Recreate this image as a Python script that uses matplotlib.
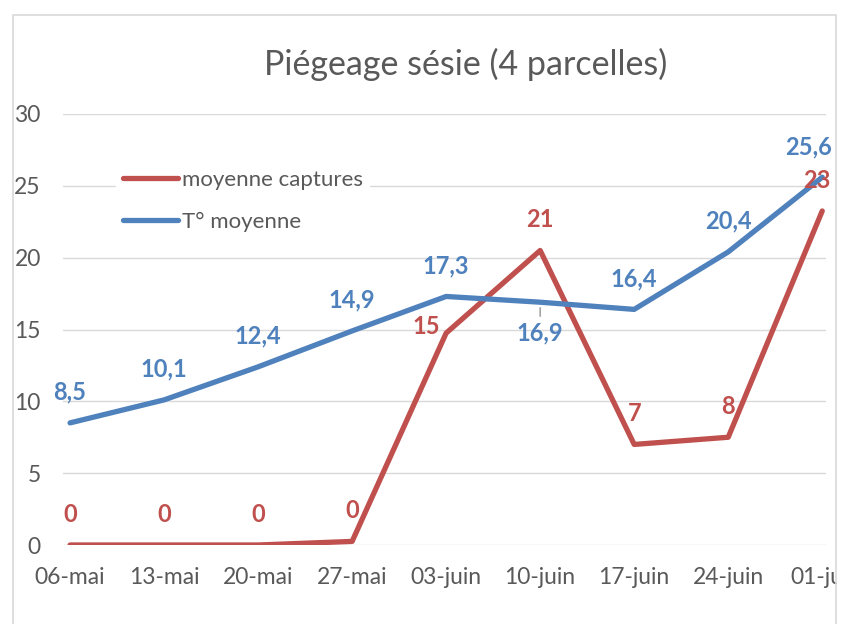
import matplotlib
matplotlib.use("Agg")
import matplotlib.pyplot as plt
from matplotlib.patches import Rectangle

plt.rcParams['font.family'] = ['Lato', 'DejaVu Sans']

# données
dates = ['06-mai', '13-mai', '20-mai', '27-mai', '03-juin', '10-juin', '17-juin', '24-juin', '01-juil']
captures = [0, 0, 0, 0.25, 14.75, 20.5, 7, 7.5, 23.25]
temp = [8.5, 10.1, 12.4, 14.9, 17.3, 16.9, 16.4, 20.4, 25.6]
captures_lbl = ['0', '0', '0', '0', '15', '21', '7', '8', '23']
temp_lbl = ['8,5', '10,1', '12,4', '14,9', '17,3', '16,9', '16,4', '20,4', '25,6']

RED = '#C0504D'
BLUE = '#4F81BD'
GREY = '#595959'

fig = plt.figure(figsize=(8.51, 6.24), dpi=100)
ax = fig.add_axes([63/851, 1-545/624, (826-63)/851, (545-114)/624])

x = list(range(len(dates)))
l1, = ax.plot(x, captures, color=RED, lw=3.8, solid_joinstyle='round', solid_capstyle='round', zorder=3)
l2, = ax.plot(x, temp, color=BLUE, lw=3.8, solid_joinstyle='round', solid_capstyle='round', zorder=3)

ax.set_xlim(-0.075, 8.04)
ax.set_ylim(0, 30)
ax.set_yticks(range(0, 31, 5))
ax.set_xticks(x)
ax.set_xticklabels(dates)
ax.grid(axis='y', color='#D9D9D9', lw=1)
ax.set_axisbelow(True)
for s in ax.spines.values():
    s.set_visible(False)
ax.tick_params(length=0, labelsize=16.5, labelcolor=GREY)
ax.tick_params(axis='y', pad=16)
ax.tick_params(axis='x', pad=16)

# étiquettes (décalages en points)
off_c = [(0, 22), (0, 22), (0, 22), (0, 22), (-14, 5), (0, 22), (0, 22), (0, 22), (-4, 22)]
off_t = [(0, 22), (0, 22), (0, 22), (0, 22), (0, 22), (0, -22), (0, 22), (0, 22), (-10, 22)]
for i in x:
    ax.annotate(captures_lbl[i], (i, captures[i]), xytext=off_c[i], textcoords='offset points',
                ha='center', va='center', color=RED, fontsize=17, fontweight='bold', zorder=5)
    ax.annotate(temp_lbl[i], (i, temp[i]), xytext=off_t[i], textcoords='offset points',
                ha='center', va='center', color=BLUE, fontsize=17, fontweight='bold', zorder=5)
# trait de rappel pour 16,9
ax.annotate('', (5, temp[5] - 0.2), xytext=(0, -10), textcoords='offset points',
            arrowprops=dict(arrowstyle='-', color='#A6A6A6', lw=1.2))

fig.suptitle('Piégeage sésie (4 parcelles)', x=466/851, y=1-64/624, va='center',
             fontsize=24.5, color=GREY)

leg = fig.legend([l1, l2], ['moyenne captures', 'T° moyenne'], loc='upper left',
                 bbox_to_anchor=(105/851, 1-152/624), frameon=True, fontsize=16,
                 handlelength=2.5, handletextpad=0.15, labelspacing=1.0, borderpad=0.3)
leg.get_frame().set_edgecolor('white')
leg.get_frame().set_facecolor('white')
leg.get_frame().set_alpha(1)
for t in leg.get_texts():
    t.set_color(GREY)

# cadre du graphique, coupé à droite
fig.add_artist(Rectangle((837/851, 0), 14/851, 1, transform=fig.transFigure,
                         facecolor='white', edgecolor='none', zorder=10))
fig.add_artist(Rectangle((13/851, -0.1), (836-13)/851, 1.1 - 15/624, transform=fig.transFigure,
                         facecolor='none', edgecolor='#D9D9D9', lw=1.2, zorder=11))

fig.savefig('out.png', dpi=100)
